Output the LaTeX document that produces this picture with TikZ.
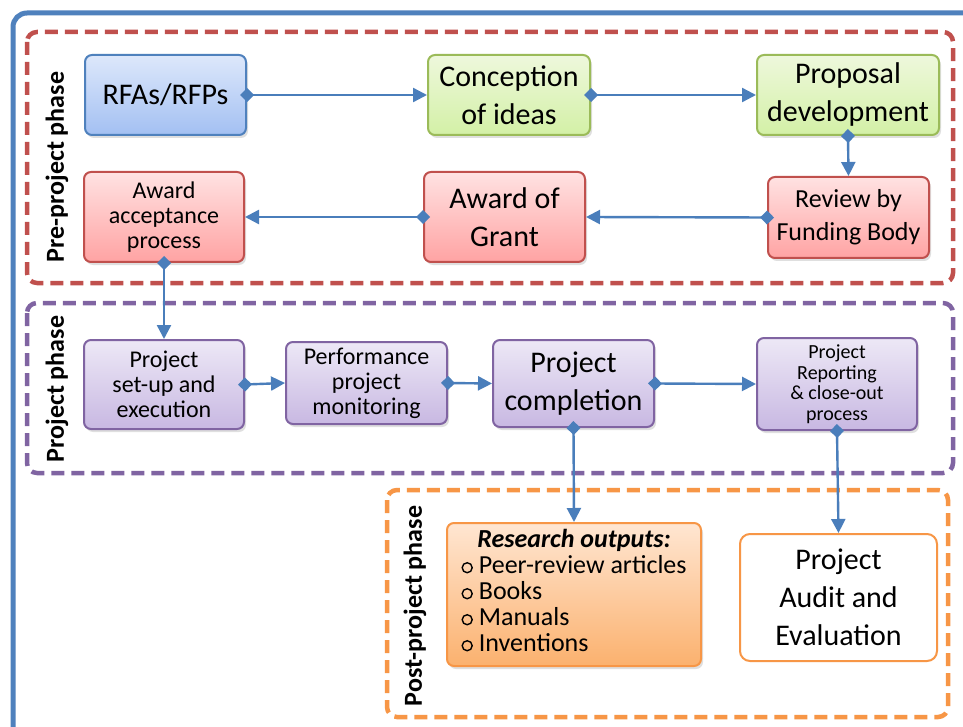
\documentclass[tikz,border=0pt]{standalone}
\usepackage{fontspec}
\setmainfont{Carlito}
\usetikzlibrary{positioning, arrows.meta, shadows}

\definecolor{linkblue}{HTML}{4A7EBB}
\definecolor{frameblue}{HTML}{4F81BD}
\definecolor{prered}{HTML}{C0504D}
\definecolor{propurple}{HTML}{8064A2}
\definecolor{postorange}{HTML}{F79646}
\definecolor{boxgreen}{HTML}{9BBB59}

\newcommand{\bigtxt}{\fontsize{30}{38}\selectfont}
\newcommand{\midtxt}{\fontsize{26}{33}\selectfont}
\newcommand{\smalltxt}{\fontsize{24}{25}\selectfont}
\newcommand{\tinytxt}{\fontsize{20}{20.5}\selectfont}
\newcommand{\listtxt}{\fontsize{26}{26}\selectfont}
\newcommand{\phasetxt}{\bfseries\fontsize{26}{30}\selectfont}
% hollow bullet for the output list
\newcommand{\bul}{\tikz[baseline=0pt]\draw[line width=1.4pt] (0pt,6pt) circle[radius=5pt];\hspace{6pt}}

\begin{document}
\begin{tikzpicture}[x=1pt, y=-1pt,
    box/.style={rounded corners=7pt, line width=2pt, align=center, inner sep=2pt,
      drop shadow={opacity=0.25, shadow xshift=2pt, shadow yshift=-3pt}},
    bluebox/.style={box, draw=frameblue, top color={rgb,255:red,221;green,232;blue,251}, bottom color={rgb,255:red,163;green,192;blue,242}},
    greenbox/.style={box, draw=boxgreen, top color={rgb,255:red,238;green,248;blue,220}, bottom color={rgb,255:red,211;green,240;blue,166}},
    redbox/.style={box, draw=prered, top color={rgb,255:red,255;green,226;blue,226}, bottom color={rgb,255:red,255;green,163;blue,163}},
    purplebox/.style={box, draw=propurple, top color={rgb,255:red,237;green,232;blue,246}, bottom color={rgb,255:red,200;green,184;blue,226}},
    orangebox/.style={box, draw=postorange, top color={rgb,255:red,255;green,230;blue,210}, bottom color={rgb,255:red,251;green,177;blue,110}},
    link/.style={draw=linkblue, line width=2.4pt,
      arrows={Diamond[length=14pt,width=14pt]-Triangle[length=14pt,width=14pt]},
      shorten <=-7pt},
    phase/.style={dash pattern=on 13pt off 7pt, line width=4.5pt, rounded corners=10pt},
    phaselabel/.style={rotate=90, font=\phasetxt}
  ]
  \path[use as bounding box, fill=white] (0,0) rectangle (963,727);
  \clip (0,0) rectangle (963,727);

  % outer frame
  \draw[frameblue, line width=5pt, rounded corners=14pt] (13,13) rectangle (990,760);

  % phase frames
  \draw[phase, prered] (27,32) rectangle (953,283);
  \draw[phase, propurple] (27,303) rectangle (953,473);
  \draw[phase, postorange] (387,490) rectangle (948,717);

  \node[phaselabel] (prelabel) at (57,167) {Pre-project phase};
  \node[phaselabel] (projlabel) at (57,389) {Project phase};
  \node[phaselabel] (postlabel) at (415,606) {Post-project phase};

  % pre-project phase
  \node[bluebox, font=\bigtxt, minimum width=161pt, minimum height=80pt] (rfa) at (165.5,95) {RFAs/RFPs};
  \node[greenbox, font=\bigtxt, minimum width=162pt, minimum height=80pt] (ideas) at (509,95) {Conception\\of ideas};
  \node[greenbox, font=\bigtxt, minimum width=182pt, minimum height=80pt] (proposal) at (848,95) {Proposal\\development};
  \node[redbox, font=\midtxt, minimum width=161pt, minimum height=81pt] (review) at (848.5,217.5) {Review by\\Funding Body};
  \node[redbox, font=\bigtxt, minimum width=161pt, minimum height=90pt] (grant) at (504.5,217) {Award of\\Grant};
  \node[redbox, font=\smalltxt, minimum width=160pt, minimum height=90pt] (accept) at (164,217) {Award\\acceptance\\process};

  % project phase
  \node[purplebox, font=\smalltxt, minimum width=160pt, minimum height=89pt] (setup) at (164,384.5) {Project\\set-up and\\execution};
  \node[purplebox, font=\smalltxt, minimum width=161pt, minimum height=82pt] (perf) at (366.5,383) {Performance\\project\\monitoring};
  \node[purplebox, font=\bigtxt, minimum width=161pt, minimum height=87pt] (done) at (573.5,383.5) {Project\\completion};
  \node[purplebox, font=\tinytxt, minimum width=160pt, minimum height=92pt] (report) at (837,384) {Project\\Reporting\\\&~close-out\\process};

  % post-project phase
  \node[orangebox, font=\listtxt, minimum width=254pt, minimum height=143pt] (outputs) at (574,594.5)
    {\begin{tabular}{@{}l@{}}
      \multicolumn{1}{@{}c@{}}{\textbf{\textit{Research outputs:}}}\\
      \bul Peer-review articles\\
      \bul Books\\
      \bul Manuals\\
      \bul Inventions
    \end{tabular}};
  \node[draw=postorange, fill=white, rounded corners=10pt, line width=2pt, align=center,
    font=\bigtxt, minimum width=197pt, minimum height=127pt] (audit) at (838.5,597.5)
    {Project\\Audit and\\Evaluation};

  % connectors
  \draw[link] (rfa.east) -- (ideas.west);
  \draw[link] (ideas.east) -- (proposal.west);
  \draw[link] (proposal.south) -- (review.north);
  \draw[link] (review.west) -- (grant.east);
  \draw[link] (grant.west) -- (accept.east);
  \draw[link] (accept.south) -- (setup.north);
  \draw[link] (setup.east) -- (perf.west);
  \draw[link] (perf.east) -- (done.west);
  \draw[link] (done.east) -- (report.west);
  \draw[link] (done.south) -- (outputs.north);
  \draw[link] (report.south) -- (audit.north);
\end{tikzpicture}
\end{document}
